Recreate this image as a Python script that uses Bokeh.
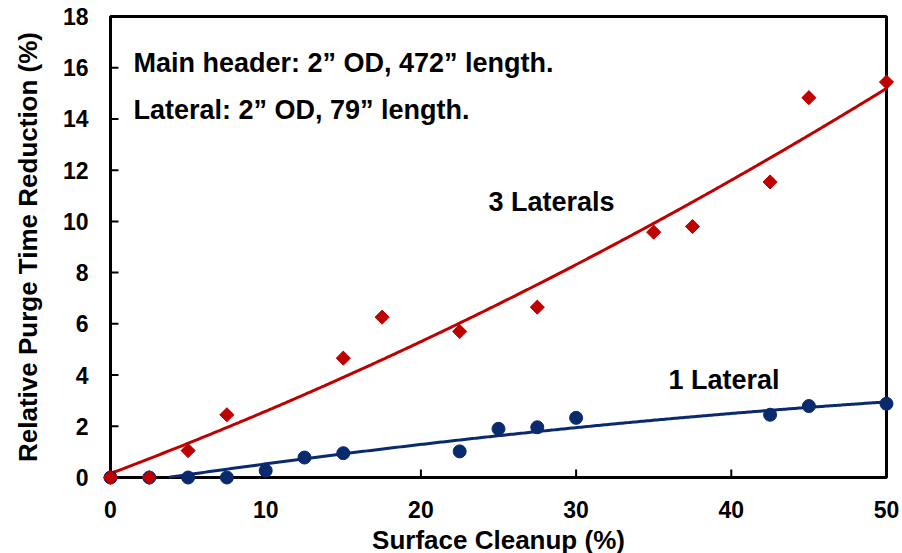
import numpy as np
from bokeh.plotting import figure
from bokeh.models import Range1d, FixedTicker, Label
from bokeh.embed import file_html
from bokeh.resources import INLINE

# Data
x_one = [0, 2.5, 5, 7.5, 10, 12.5, 15, 22.5, 25, 27.5, 30, 42.5, 45, 50]
y_one = [0, 0, 0, 0, 0.27, 0.78, 0.95, 1.02, 1.9, 1.96, 2.33, 2.45, 2.79, 2.88]
x_three = [0, 2.5, 5, 7.5, 15, 17.5, 22.5, 27.5, 35, 37.5, 42.5, 45, 50]
y_three = [0, 0, 1.05, 2.45, 4.66, 6.26, 5.70, 6.65, 9.58, 9.8, 11.54, 14.83, 15.44]
x_ticks = [0, 10, 20, 30, 40, 50]
y_ticks = [0, 2, 4, 6, 8, 10, 12, 14, 16, 18]

RED = "#C00000"
BLUE = "#0A2A6E"
FONT = "Liberation Sans"

# small padding around the axes box so markers on the axes are not clipped
PX, PY = 0.58, 0.3514
x0, x1 = x_ticks[0], x_ticks[-1]
y0, y1 = y_ticks[0], y_ticks[-1]

p = figure(frame_width=794, frame_height=479, output_backend="svg", toolbar_location=None,
           x_range=Range1d(x0 - PX, x1 + PX), y_range=Range1d(y0 - PY, y1 + PY),
           min_border_left=101, min_border_right=7, min_border_top=7, min_border_bottom=67)
p.grid.visible = False
p.outline_line_color = None
p.background_fill_color = "white"

# axes box and inward ticks
p.line([x0, x0, x1, x1, x0], [y0, y1, y1, y0, y0], line_color="black", line_width=3)
p.ray(x=x_ticks, y=[y0] * len(x_ticks), length=8, length_units="screen",
      angle=90, angle_units="deg", line_color="black", line_width=2)
p.ray(x=[x0] * len(y_ticks), y=y_ticks, length=8, length_units="screen",
      angle=0, angle_units="deg", line_color="black", line_width=2)

# trendlines (quadratic fits)
xs = np.linspace(x0, x1, 400)
c1 = np.polyfit(x_one, y_one, 2)
c3 = np.polyfit(x_three, y_three, 2)
f1 = np.polyval(c1, xs)
f3 = np.polyval(c3, xs)
m1 = f1 >= 0
m3 = f3 >= 0
p.line(xs[m1], f1[m1], line_color=BLUE, line_width=3)
p.line(xs[m3], f3[m3], line_color=RED, line_width=3)

for ax in (p.xaxis, p.yaxis):
    ax.axis_line_color = None
    ax.major_tick_line_color = None
    ax.minor_tick_line_color = None
    ax.major_tick_in = 0
    ax.major_tick_out = 0
    ax.major_label_text_font = FONT
    ax.major_label_text_font_style = "bold"
    ax.major_label_text_font_size = "23px"
    ax.major_label_text_color = "black"
    ax.axis_label_text_font = FONT
    ax.axis_label_text_font_style = "bold"
    ax.axis_label_text_font_size = "26px"
    ax.axis_label_text_color = "black"

p.xaxis.ticker = FixedTicker(ticks=x_ticks)
p.yaxis.ticker = FixedTicker(ticks=y_ticks)
p.xaxis.axis_label = "Surface Cleanup (%)"
p.yaxis.axis_label = "Relative Purge Time Reduction (%)"
p.xaxis.major_label_standoff = 14
p.yaxis.major_label_standoff = 13
p.xaxis.axis_label_standoff = 4
p.yaxis.axis_label_standoff = 17

p.scatter(x_one, y_one, marker="circle", size=13, fill_color=BLUE, line_color=BLUE)
p.scatter(x_three, y_three, marker="square", size=10, angle=np.pi / 4,
          fill_color=RED, line_color=RED)

notes = [
    ("Main header: 2\u201d OD, 472\u201d length.", 1.48, 16.2),
    ("Lateral: 2\u201d OD, 79\u201d length.", 1.48, 14.34),
    ("3 Laterals", 24.35, 10.75),
    ("1 Lateral", 35.95, 3.79),
]
for txt, lx, ly in notes:
    p.add_layout(Label(x=lx, y=ly, text=txt, text_font=FONT, text_font_style="bold",
                       text_font_size="27px", text_color="black", text_baseline="middle"))

open("out.html", "w").write(file_html(p, INLINE))
